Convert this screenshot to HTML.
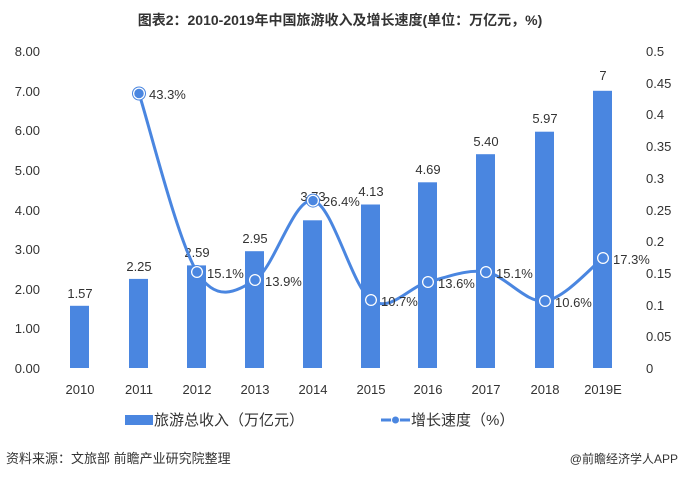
<!DOCTYPE html><html><head><meta charset="utf-8"><style>body{margin:0;background:#fff}svg{display:block;font-family:"Liberation Sans","Noto Sans CJK SC",sans-serif}</style></head><body>
<svg width="681" height="478" viewBox="0 0 681 478">
<text x="340" y="25" text-anchor="middle" font-size="14" font-weight="bold" fill="#333">图表2：2010-2019年中国旅游收入及增长速度(单位：万亿元，%)</text>
<g font-size="13" fill="#333" text-anchor="end">
<text x="40" y="56">8.00</text><text x="40" y="96">7.00</text><text x="40" y="135">6.00</text><text x="40" y="175">5.00</text><text x="40" y="215">4.00</text><text x="40" y="254">3.00</text><text x="40" y="294">2.00</text><text x="40" y="333">1.00</text><text x="40" y="373">0.00</text>
</g>
<g font-size="13" fill="#333" text-anchor="start">
<text x="646" y="56">0.5</text><text x="646" y="88">0.45</text><text x="646" y="119">0.4</text><text x="646" y="151">0.35</text><text x="646" y="183">0.3</text><text x="646" y="215">0.25</text><text x="646" y="246">0.2</text><text x="646" y="278">0.15</text><text x="646" y="310">0.1</text><text x="646" y="341">0.05</text><text x="646" y="373">0</text>
</g>
<g fill="#4a86e0">
<rect x="70" y="305.8" width="19" height="62.2"/><rect x="129" y="278.9" width="19" height="89.1"/><rect x="187" y="265.4" width="19" height="102.6"/><rect x="245" y="251.2" width="19" height="116.8"/><rect x="303" y="220.3" width="19" height="147.7"/><rect x="361" y="204.5" width="19" height="163.5"/><rect x="418" y="182.3" width="19" height="185.7"/><rect x="476" y="154.2" width="19" height="213.8"/><rect x="535" y="131.7" width="19" height="236.3"/><rect x="593" y="90.8" width="19" height="277.2"/>
</g>
<g font-size="13" fill="#333" text-anchor="middle">
<text x="80" y="298">1.57</text><text x="139" y="271">2.25</text><text x="197" y="257">2.59</text><text x="255" y="243">2.95</text><text x="313" y="201">3.73</text><text x="371" y="196">4.13</text><text x="428" y="174">4.69</text><text x="486" y="146">5.40</text><text x="545" y="123">5.97</text><text x="603" y="80">7</text>
</g>
<path d="M139,93.5 C148.7,123.3 177.7,240.9 197,272 C216.3,303.1 235.7,291.9 255,280 C274.3,268.1 293.7,197.3 313,200.6 C332.3,203.9 351.8,286.4 371,300 C390.2,313.6 408.8,286.7 428,282 C447.2,277.3 466.5,268.8 486,272 C505.5,275.2 525.5,303.3 545,301 C564.5,298.7 593.3,265.2 603,258" fill="none" stroke="#4a86e0" stroke-width="3"/>
<g fill="#4a86e0" stroke="#fff" stroke-width="1.5">
<circle cx="139" cy="93.5" r="5.5"/><circle cx="197" cy="272" r="5.5"/><circle cx="255" cy="280" r="5.5"/><circle cx="313" cy="200.6" r="5.5"/><circle cx="371" cy="300" r="5.5"/><circle cx="428" cy="282" r="5.5"/><circle cx="486" cy="272" r="5.5"/><circle cx="545" cy="301" r="5.5"/><circle cx="603" cy="258" r="5.5"/>
</g>
<g fill="none" stroke="#4a86e0" stroke-width="1">
<circle cx="139" cy="93.5" r="6.5"/><circle cx="197" cy="272" r="6.5"/><circle cx="255" cy="280" r="6.5"/><circle cx="313" cy="200.6" r="6.5"/><circle cx="371" cy="300" r="6.5"/><circle cx="428" cy="282" r="6.5"/><circle cx="486" cy="272" r="6.5"/><circle cx="545" cy="301" r="6.5"/><circle cx="603" cy="258" r="6.5"/>
</g>
<g font-size="13" fill="#333">
<text x="149" y="99">43.3%</text><text x="207" y="278">15.1%</text><text x="265" y="286">13.9%</text><text x="323" y="206">26.4%</text><text x="381" y="306">10.7%</text><text x="438" y="288">13.6%</text><text x="496" y="278">15.1%</text><text x="555" y="307">10.6%</text><text x="613" y="264">17.3%</text>
</g>
<g font-size="13" fill="#333" text-anchor="middle">
<text x="80" y="394">2010</text><text x="139" y="394">2011</text><text x="197" y="394">2012</text><text x="255" y="394">2013</text><text x="313" y="394">2014</text><text x="371" y="394">2015</text><text x="428" y="394">2016</text><text x="486" y="394">2017</text><text x="545" y="394">2018</text><text x="603" y="394">2019E</text>
</g>
<rect x="125" y="415" width="28" height="10" fill="#4a86e0"/>
<text x="154" y="425" font-size="15" fill="#333">旅游总收入（万亿元）</text>
<line x1="381" y1="420" x2="410" y2="420" stroke="#4a86e0" stroke-width="3"/>
<circle cx="395.5" cy="420" r="4" fill="#4a86e0" stroke="#fff" stroke-width="1"/>
<text x="411" y="425" font-size="15" fill="#333">增长速度（%）</text>
<text x="6" y="463" font-size="13" fill="#333">资料来源：文旅部 前瞻产业研究院整理</text>
<text x="678" y="463" font-size="12" fill="#333" text-anchor="end">@前瞻经济学人APP</text>
</svg></body></html>
